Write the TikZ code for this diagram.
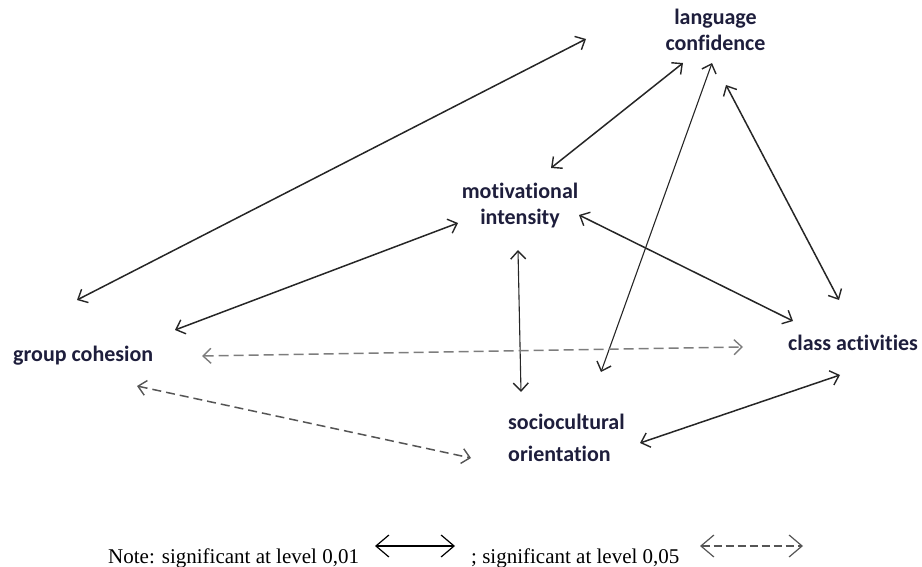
\documentclass[tikz,border=0pt]{standalone}
\usepackage{fontspec}
\setmainfont{Liberation Serif}
\newfontfamily\lblfont[RawFeature={-liga;-clig}]{Carlito}
\usetikzlibrary{arrows.meta}
\definecolor{lbl}{RGB}{30,30,60}
\definecolor{dgray}{RGB}{85,85,85}
\definecolor{lgray}{RGB}{125,125,125}
\tikzset{
  lab/.style={font=\lblfont\bfseries\fontsize{22}{26}\selectfont, text=lbl, inner sep=0pt},
  tip/.tip={Straight Barb[length=8pt,width=15pt,line width=1.4pt]},
  sig/.style={tip-tip, line width=1.5pt, black!85},
  sigb/.style={tip-tip, line width=1.5pt, dgray, dash pattern=on 9pt off 5pt},
  sigc/.style={tip-tip, line width=1.5pt, lgray, dash pattern=on 10pt off 5pt},
  bigtip/.tip={Straight Barb[length=13pt,width=22pt,line width=1.2pt]},
  note/.style={font=\fontsize{21}{25}\selectfont, inner sep=0pt}
}
\begin{document}
\begin{tikzpicture}[x=1pt,y=-1pt]
\useasboundingbox (0,0) rectangle (922,567);
% labels
\node[lab, align=center] (lc) at (715.5,30) {language\\confidence};
\node[lab, align=center] (mi) at (520,205.5) {motivational\\intensity};
\node[lab, anchor=base west] (gc) at (13,361) {group cohesion};
\node[lab, anchor=base west] (ca) at (788,350) {class activities};
\node[lab, align=left, anchor=west] (so) at (508,438) {sociocultural\\[6pt]orientation};
% endpoints
\coordinate (a1) at (77,300);  \coordinate (b1) at (586,39);
\coordinate (a2) at (683,63);  \coordinate (b2) at (551,168);
\coordinate (a3) at (712,63);  \coordinate (b3) at (601,372);
\coordinate (a4) at (726,85);  \coordinate (b4) at (839,300);
\coordinate (a5) at (458,223); \coordinate (b5) at (175,330);
\coordinate (a6) at (579,215); \coordinate (b6) at (793,321);
\coordinate (a7) at (518,250); \coordinate (b7) at (521,392);
\coordinate (a8) at (202,356); \coordinate (b8) at (743,347);
\coordinate (a9) at (137,386); \coordinate (b9) at (471,458);
\coordinate (a10) at (640,443); \coordinate (b10) at (840,375);
% connectors
\draw[sig] (a1) -- (b1);
\draw[sig] (a2) -- (b2);
\draw[sig, line width=1.1pt] (a3) -- (b3);
\draw[sig] (a4) -- (b4);
\draw[sig] (a5) -- (b5);
\draw[sig] (a6) -- (b6);
\draw[sig, line width=1.1pt] (a7) -- (b7);
\draw[sigc] (a8) -- (b8);
\draw[sigb] (a9) -- (b9);
\draw[sig] (a10) -- (b10);
% legend
\node[note, anchor=base west] (n1) at (108,563) {Note: significant at level 0,01};
\node[note, anchor=base west] (n2) at (471,563) {; significant at level 0,05};
\coordinate (l1a) at (375,546); \coordinate (l1b) at (455,546);
\coordinate (l2a) at (700,546); \coordinate (l2b) at (803,546);
\draw[bigtip-bigtip, line width=1.2pt] (l1a) -- (l1b);
\draw[bigtip-bigtip, line width=1.2pt, dgray, dash pattern=on 8pt off 4pt] (l2a) -- (l2b);
\end{tikzpicture}
\end{document}
